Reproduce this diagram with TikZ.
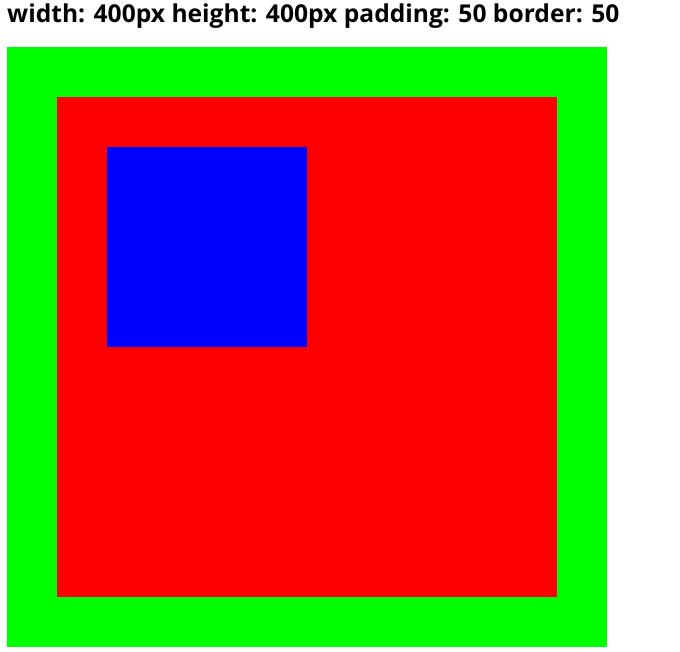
\documentclass[tikz,border=0pt]{standalone}
\usepackage{fontspec}
\setmainfont{Open Sans}
\usepackage{xcolor}
\usetikzlibrary{positioning}
\definecolor{boxgreen}{HTML}{00FF00}
\definecolor{boxred}{HTML}{FF0000}
\definecolor{boxblue}{HTML}{0000FF}
\tikzset{
  boxfill/.style={draw=none,inner sep=0pt,outer sep=0pt,anchor=north west},
  titletext/.style={font=\fontsize{24.6}{28}\selectfont\bfseries,inner sep=0pt,anchor=base west},
}
\begin{document}
\begin{tikzpicture}[x=1pt,y=-1pt]
    \useasboundingbox (0,0) rectangle (680,651);
    \node[titletext] (title) at (7,22) {width: 400px height: 400px padding: 50 border: 50};
    \node[boxfill,fill=boxgreen,minimum width=600pt,minimum height=600pt] (border) at (7,47) {};
    \node[boxfill,fill=boxred,minimum width=500pt,minimum height=500pt] (padding) at (57,97) {};
    \node[boxfill,fill=boxblue,minimum width=200pt,minimum height=200pt] (content) at (107,147) {};
  \end{tikzpicture}
\end{document}
